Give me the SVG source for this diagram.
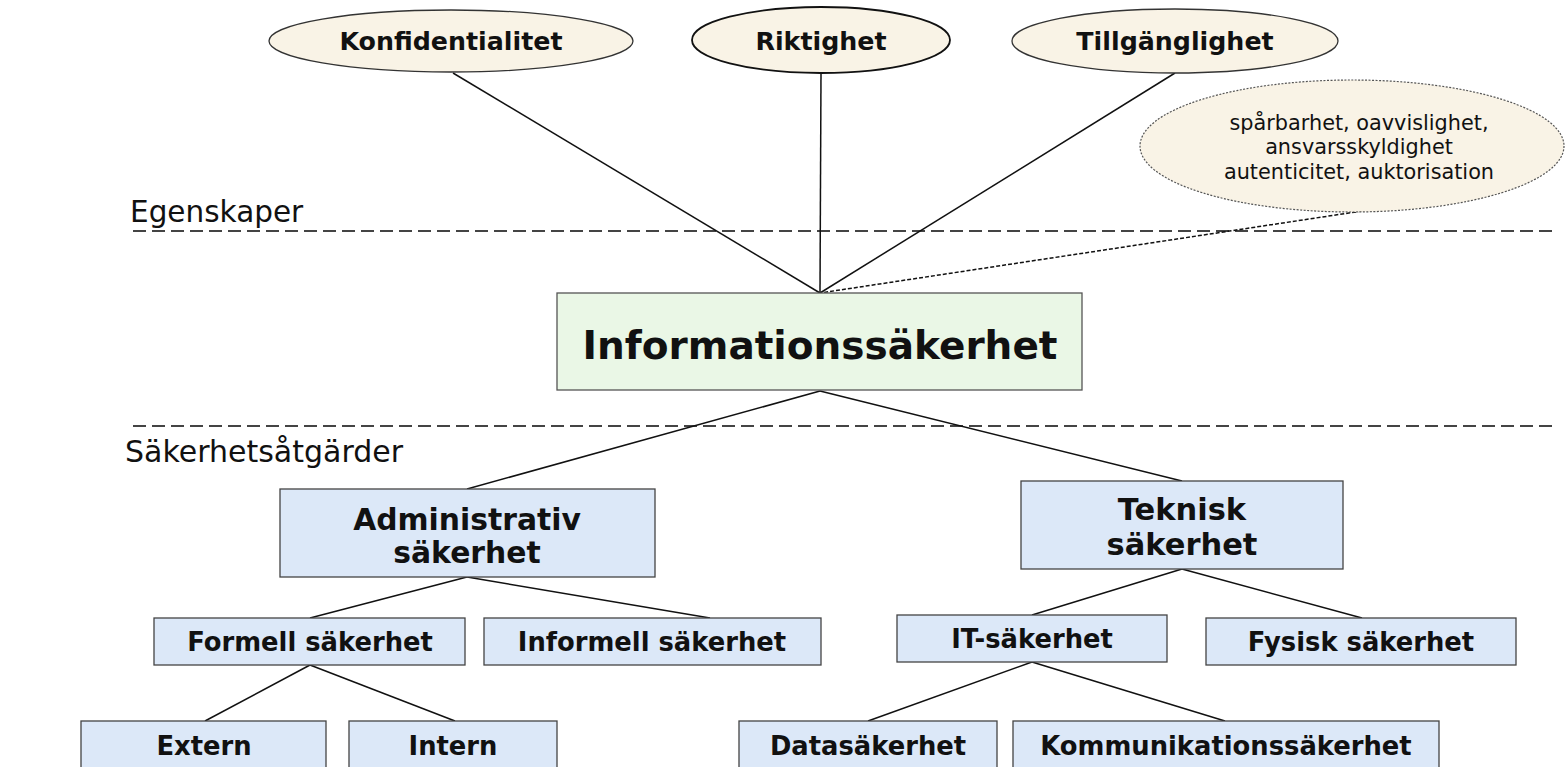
<svg xmlns="http://www.w3.org/2000/svg" width="1565" height="767" viewBox="0 0 1565 767">
<style>
.bg{fill:#ffffff}
.ell{fill:#f9f3e6;stroke:#333;stroke-width:1.3}
.note{fill:#f9f3e6;stroke:#555;stroke-width:1.2;stroke-dasharray:2 1.5}
.box{fill:#dce8f8;stroke:#444;stroke-width:1.3}
.main{fill:#eaf7e6;stroke:#555;stroke-width:1.3}
.t{font-family:"DejaVu Sans",Verdana,sans-serif;font-weight:bold;fill:#111;text-anchor:middle;dominant-baseline:central}
.r{font-family:"DejaVu Sans",Verdana,sans-serif;fill:#111}
.sep{stroke:#444;stroke-width:2;stroke-dasharray:13 6;fill:none}
.c{stroke:#111;stroke-width:1.5;fill:none}
.cd{stroke:#111;stroke-width:1.5;stroke-dasharray:4 2;fill:none}
</style>
<rect class="bg" x="0" y="0" width="1565" height="767"/>
<g id="separators">
<line class="sep" x1="133" y1="231" x2="1552" y2="231"/>
<line class="sep" x1="133" y1="426" x2="1552" y2="426"/>
<text class="r" x="130" y="222" font-size="29.5">Egenskaper</text>
<text class="r" x="125" y="462" font-size="30">Säkerhetsåtgärder</text>
</g>
<g id="connectors">
<line class="c" x1="453" y1="73" x2="820" y2="293"/>
<line class="c" x1="821" y1="73" x2="820" y2="293"/>
<line class="c" x1="1175" y1="73" x2="820" y2="293"/>
<line class="cd" x1="1362" y1="211" x2="820" y2="293"/>
<line class="c" x1="820" y1="391" x2="467" y2="489"/>
<line class="c" x1="820" y1="391" x2="1182" y2="481"/>
<line class="c" x1="467" y1="577" x2="310" y2="618"/>
<line class="c" x1="467" y1="577" x2="710" y2="618"/>
<line class="c" x1="1182" y1="569" x2="1032" y2="615"/>
<line class="c" x1="1182" y1="569" x2="1362" y2="618"/>
<line class="c" x1="310" y1="665" x2="205" y2="721"/>
<line class="c" x1="310" y1="665" x2="455" y2="721"/>
<line class="c" x1="1032" y1="662" x2="868" y2="721"/>
<line class="c" x1="1032" y1="662" x2="1225" y2="721"/>
</g>
<g id="konfidentialitet">
<ellipse class="ell" cx="451" cy="41" rx="182" ry="31"/>
<text class="t" x="451" y="41" font-size="25.3">Konfidentialitet</text>
</g>
<g id="riktighet">
<ellipse class="ell" cx="821" cy="40" rx="129" ry="33" style="stroke:#111;stroke-width:1.8"/>
<text class="t" x="821" y="41" font-size="25.3">Riktighet</text>
</g>
<g id="tillganglighet">
<ellipse class="ell" cx="1175" cy="41" rx="163" ry="32"/>
<text class="t" x="1175" y="41" font-size="25.3">Tillgänglighet</text>
</g>
<g id="note">
<ellipse class="note" cx="1352" cy="146" rx="212" ry="66"/>
<text class="r" font-size="20.8" text-anchor="middle"><tspan x="1359" y="130">spårbarhet, oavvislighet,</tspan><tspan x="1359" y="154">ansvarsskyldighet</tspan><tspan x="1359" y="179">autenticitet, auktorisation</tspan></text>
</g>
<g id="informationssakerhet">
<rect class="main" x="557" y="293" width="525" height="97"/>
<text class="t" x="820" y="345" font-size="39">Informationssäkerhet</text>
</g>
<g id="administrativ">
<rect class="box" x="280" y="489" width="375" height="88"/>
<text class="t" x="467" y="519" font-size="29.8">Administrativ</text>
<text class="t" x="467" y="552" font-size="29.8">säkerhet</text>
</g>
<g id="teknisk">
<rect class="box" x="1021" y="481" width="322" height="88"/>
<text class="t" x="1182" y="509" font-size="30.5">Teknisk</text>
<text class="t" x="1182" y="544" font-size="30.5">säkerhet</text>
</g>
<g id="formell">
<rect class="box" x="154" y="618" width="311" height="47"/>
<text class="t" x="310" y="642" font-size="25.8">Formell säkerhet</text>
</g>
<g id="informell">
<rect class="box" x="484" y="618" width="337" height="47"/>
<text class="t" x="652" y="642" font-size="25.8">Informell säkerhet</text>
</g>
<g id="it">
<rect class="box" x="897" y="615" width="270" height="47"/>
<text class="t" x="1032" y="639" font-size="25.8">IT-säkerhet</text>
</g>
<g id="fysisk">
<rect class="box" x="1206" y="618" width="310" height="47"/>
<text class="t" x="1361" y="642" font-size="25.8">Fysisk säkerhet</text>
</g>
<g id="extern">
<rect class="box" x="81" y="721" width="245" height="60"/>
<text class="t" x="204" y="746" font-size="25.8">Extern</text>
</g>
<g id="intern">
<rect class="box" x="349" y="721" width="208" height="60"/>
<text class="t" x="453" y="746" font-size="25.8">Intern</text>
</g>
<g id="datasakerhet">
<rect class="box" x="739" y="721" width="258" height="60"/>
<text class="t" x="868" y="746" font-size="25.8">Datasäkerhet</text>
</g>
<g id="kommunikation">
<rect class="box" x="1013" y="721" width="426" height="60"/>
<text class="t" x="1226" y="746" font-size="25.8">Kommunikationssäkerhet</text>
</g>
</svg>
